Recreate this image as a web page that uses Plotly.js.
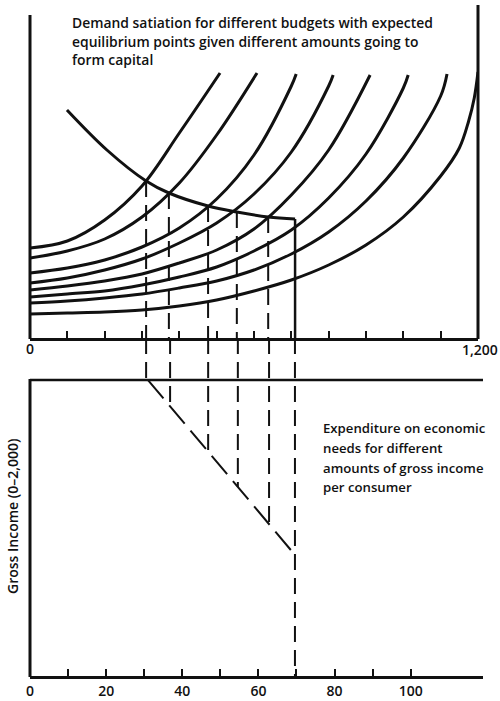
<!DOCTYPE html>
<html>
<head>
<meta charset="utf-8">
<script src="https://cdn.plot.ly/plotly-3.0.1.min.js"></script>
<style>html,body{margin:0;padding:0;background:#fff;}#chart{width:500px;height:701px;}</style>
</head>
<body>
<div id="chart"></div>
<script>
// ---------- DATA ----------
// Top panel: x = 0..1,200 ; y = relative satiation level
const curve1X = [0, 100, 200, 300, 400, 509];
const curve1Y = [90, 97, 118, 152, 205, 265];
const curve2X = [0, 100, 200, 300, 400, 500, 608];
const curve2Y = [80, 87, 99, 121, 155, 203, 265];
const curve3X = [0, 100, 200, 300, 400, 500, 600, 700, 713];
const curve3Y = [65, 70, 78, 91, 110, 139, 183, 252, 264];
const curve4X = [0, 100, 200, 300, 400, 500, 600, 700, 800, 812];
const curve4Y = [55, 60, 68, 79, 95, 115, 144, 186, 252, 263];
const curve5X = [0, 100, 200, 300, 400, 500, 600, 700, 800, 911];
const curve5Y = [48, 52, 57, 64, 75, 88, 109, 143, 188, 263];
const curve6X = [0, 100, 200, 300, 400, 500, 600, 700, 800, 900, 1000, 1013];
const curve6Y = [41, 44, 47, 53, 61, 71, 87, 108, 140, 184, 250, 263];
const curve7X = [0, 100, 200, 300, 400, 500, 600, 700, 800, 900, 1000, 1100, 1117];
const curve7Y = [35, 37, 40, 44, 50, 57, 68, 84, 106, 137, 180, 242, 264];
const curve8X = [0, 100, 200, 300, 400, 500, 600, 700, 800, 900, 1000, 1100, 1150, 1175, 1190, 1200];
const curve8Y = [24, 25, 26, 28, 32, 38, 47, 58, 73, 93, 121, 162, 190, 217, 240, 266];

// Equilibrium (declining) curve
const equilCurveX = [99, 206, 311, 372, 477, 554, 638, 710];
const equilCurveY = [228, 188, 157, 145, 132, 126, 121, 119];
const equilDropX = [710, 710];
const equilDropY = [119, 0];

// Equilibrium points projected downward (top panel units)
const capitalTop = [311, 372, 477, 554, 638];
const equilTop = [157, 145, 132, 126, 121];

// Bottom panel: x = 0..120 ; y = gross income (0-2,000)
const capitalBottom = [30.5, 36.8, 46.8, 54.6, 62.8, 69.6];
const expenditure = [2000, 1824, 1520, 1277, 1027, 818];
const expLineX = [31, 69.6];
const expLineY = [2000, 818];
const gapTop = 2284;      // top of lower panel's frame (meets upper axis)

const bottomTicks = [0, 10, 20, 30, 40, 50, 60, 70, 80, 90, 100];
const bottomTickText = ['0', '', '20', '', '40', '', '60', '', '80', '', '100'];
const topTicks = [100, 200, 300, 400, 500, 600, 700, 800, 900, 1000, 1100];

// ---------- TRACES ----------
const INK = '#111';
const traces = [];
const curvesX = [curve1X, curve2X, curve3X, curve4X, curve5X, curve6X, curve7X, curve8X];
const curvesY = [curve1Y, curve2Y, curve3Y, curve4Y, curve5Y, curve6Y, curve7Y, curve8Y];
for (let i = 0; i < curvesX.length; i++) {
  traces.push({x: curvesX[i], y: curvesY[i], mode: 'lines', xaxis: 'x', yaxis: 'y',
    line: {color: INK, width: 3, shape: 'spline', smoothing: 1}, hoverinfo: 'skip'});
}
traces.push({x: equilCurveX, y: equilCurveY, mode: 'lines', xaxis: 'x', yaxis: 'y',
  line: {color: INK, width: 3, shape: 'spline', smoothing: 1}, hoverinfo: 'skip'});
traces.push({x: equilDropX, y: equilDropY, mode: 'lines', xaxis: 'x', yaxis: 'y',
  line: {color: INK, width: 2.5}, hoverinfo: 'skip'});
// dashed drops in upper panel
for (let i = 0; i < capitalTop.length; i++) {
  traces.push({x: [capitalTop[i], capitalTop[i]], y: [equilTop[i], 0], mode: 'lines',
    xaxis: 'x', yaxis: 'y', line: {color: INK, width: 2, dash: '16px,8px'}, hoverinfo: 'skip'});
}
// dashed drops in lower panel
for (let i = 0; i < capitalBottom.length; i++) {
  const yEnd = (i === capitalBottom.length - 1) ? 0 : expenditure[i];
  traces.push({x: [capitalBottom[i], capitalBottom[i]], y: [gapTop, yEnd], mode: 'lines',
    xaxis: 'x2', yaxis: 'y2', line: {color: INK, width: 2, dash: '16px,8px'}, hoverinfo: 'skip'});
}
// expenditure dashed diagonal
traces.push({x: expLineX, y: expLineY, mode: 'lines', xaxis: 'x2', yaxis: 'y2',
  line: {color: INK, width: 2, dash: '24px,9px'}, hoverinfo: 'skip'});

// ---------- LAYOUT ----------
const W = 500, H = 701;
const px = v => v / W, py = v => 1 - v / H;
const FONT = '"Open Sans", sans-serif';
const font = s => ({family: FONT, size: s, color: INK, weight: 600});
const txt = (t, x, y, s, opts) => Object.assign({text: t, xref: 'paper', yref: 'paper', x: px(x), y: py(y),
  showarrow: false, xanchor: 'left', yanchor: 'middle', font: font(s)}, opts || {});

const layout = {
  width: W, height: H, margin: {l: 0, r: 0, t: 0, b: 0},
  paper_bgcolor: '#fff', plot_bgcolor: 'rgba(0,0,0,0)', showlegend: false,
  font: font(14),
  xaxis: {domain: [px(30), px(478)], range: [0, 1200], anchor: 'y', showline: true, linewidth: 3,
    linecolor: INK, ticks: 'inside', ticklen: 7, tickwidth: 2, tickcolor: INK, tickvals: topTicks,
    showticklabels: false, showgrid: false, zeroline: false, fixedrange: true},
  yaxis: {domain: [py(338), py(5)], range: [0, 333], anchor: 'x', visible: false, fixedrange: true},
  xaxis2: {domain: [px(30), px(483)], range: [0, 119], anchor: 'y2', showline: true, linewidth: 3,
    linecolor: INK, ticks: 'inside', ticklen: 7, tickwidth: 2, tickcolor: INK, tickvals: bottomTicks,
    ticktext: bottomTickText, tickfont: font(14),
    showgrid: false, zeroline: false, fixedrange: true},
  yaxis2: {domain: [py(676), py(338)], range: [0, gapTop], anchor: 'x2', visible: false, fixedrange: true},
  shapes: [
    {type: 'line', xref: 'paper', yref: 'paper', x0: px(30), x1: px(30), y0: py(339), y1: py(15), line: {color: INK, width: 3}},
    {type: 'line', xref: 'paper', yref: 'paper', x0: px(478), x1: px(478), y0: py(339), y1: py(5), line: {color: INK, width: 3}},
    {type: 'line', xref: 'paper', yref: 'paper', x0: px(30), x1: px(483), y0: py(380), y1: py(380), line: {color: INK, width: 2.5}},
    {type: 'line', xref: 'paper', yref: 'paper', x0: px(30), x1: px(30), y0: py(677), y1: py(379), line: {color: INK, width: 3}}
  ],
  annotations: [
    txt('Demand satiation for different budgets with expected', 70, 23, 13.9),
    txt('equilibrium points given different amounts going to', 70, 42, 13.9),
    txt('form capital', 70, 60, 13.9),
    txt('Expenditure on economic', 321, 428, 13.2),
    txt('needs for different', 321, 448, 13.2),
    txt('amounts of gross income', 321, 468, 13.2),
    txt('per consumer', 321, 487, 13.2),
    txt('0', 30, 348, 14, {xanchor: 'center'}),
    txt('1,200', 480, 349, 14, {xanchor: 'center'}),
    txt('Gross Income (0–2,000)', 12, 517, 14, {xanchor: 'center', textangle: -90})
  ]
};

Plotly.newPlot('chart', traces, layout, {staticPlot: true, displayModeBar: false});
</script>
</body>
</html>
